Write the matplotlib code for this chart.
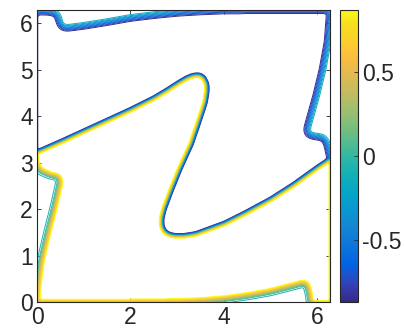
import numpy as np
import matplotlib
matplotlib.use('Agg')
import matplotlib.pyplot as plt
from matplotlib.path import Path
from matplotlib.colors import LinearSegmentedColormap, Normalize
from matplotlib.cm import ScalarMappable

plt.rcParams['font.family'] = ['Liberation Sans', 'DejaVu Sans']

# parula, every 4th entry of the 64-colour table
PARULA = [
    (0, (0.2081, 0.1663, 0.5292)), (4, (0.1959, 0.2645, 0.7279)),
    (8, (0.0117, 0.3875, 0.8820)), (12, (0.0498, 0.4586, 0.8641)),
    (16, (0.0793, 0.5200, 0.8312)), (20, (0.0343, 0.5966, 0.8199)),
    (24, (0.0228, 0.6535, 0.7768)), (28, (0.0843, 0.6928, 0.7062)),
    (32, (0.2178, 0.7250, 0.6193)), (36, (0.3953, 0.7459, 0.5244)),
    (40, (0.5709, 0.7485, 0.4494)), (44, (0.7184, 0.7411, 0.3905)),
    (48, (0.8507, 0.7299, 0.3360)), (52, (0.9739, 0.7314, 0.2666)),
    (56, (0.9880, 0.8066, 0.1794)), (60, (0.9626, 0.8705, 0.1309)),
    (63, (0.9763, 0.9831, 0.0538)),
]
parula = LinearSegmentedColormap.from_list('parula', [(i / 63, c) for i, c in PARULA])

# fronts
# S-shaped front, left to right (low side above, high side below)
s_x = [0.0, 0.5, 1.0, 1.5, 2.0, 2.5, 2.8, 3.0, 3.2, 3.35, 3.48, 3.57, 3.63, 3.64,
       3.6, 3.52, 3.3, 3.05, 2.85, 2.72, 2.67, 2.67, 2.72, 2.82, 2.95, 3.15, 3.4,
       4.0, 4.5, 5.0, 5.5, 6.0, 6.28]
s_y = [3.22, 3.44, 3.67, 3.9, 4.13, 4.38, 4.56, 4.69, 4.81, 4.87, 4.88, 4.82, 4.7, 4.55,
       4.3, 4.05, 3.4, 2.85, 2.35, 2.0, 1.8, 1.64, 1.52, 1.45, 1.42, 1.42, 1.46,
       1.68, 1.93, 2.2, 2.52, 2.88, 3.07]
# top front, left to right
t_x = [0.0, 0.3, 0.42, 0.46, 0.5, 0.6, 1.0, 1.5, 2.0, 2.5, 3.0, 3.5, 4.0, 5.0, 6.28]
t_y = [6.24, 6.23, 6.18, 6.05, 5.93, 5.88, 5.93, 6.01, 6.1, 6.16, 6.21, 6.24, 6.26, 6.27, 6.27]
# right front, top to bottom
r_x = [6.27, 6.22, 6.11, 5.97, 5.83, 5.77, 5.8, 5.9, 6.12, 6.2, 6.24, 6.27]
r_y = [6.26, 5.6, 5.0, 4.42, 3.92, 3.7, 3.6, 3.56, 3.53, 3.42, 3.25, 3.1]
# bottom-left front, top to bottom
bl_x = [0.0, 0.06, 0.28, 0.46, 0.5, 0.47, 0.38, 0.24, 0.1, 0.03, 0.0]
bl_y = [2.98, 2.84, 2.74, 2.70, 2.6, 2.45, 2.05, 1.5, 0.9, 0.4, 0.0]
# bottom front, left to right
b_x = [0.0, 1.0, 2.0, 3.0, 3.5, 4.0, 4.5, 5.0, 5.5, 5.72, 5.8, 5.84, 5.87]
b_y = [0.0, 0.0, 0.0, 0.01, 0.03, 0.07, 0.14, 0.23, 0.36, 0.42, 0.36, 0.2, 0.0]

val_low, val_high, val_mid = -1.0, 1.0, -0.1
levels = np.linspace(-0.866, 0.866, 21)
cbar_ticks = [-0.5, 0, 0.5]
cbar_labels = ['-0.5', '0', '0.5']

L = 2 * np.pi
h = 0.008
g = np.arange(-0.4, L + 0.4, h)
X, Y = np.meshgrid(g, g)
pts = np.column_stack([X.ravel(), Y.ravel()])


def region(xs, ys):
    p = Path(np.column_stack([xs, ys]))
    return p.contains_points(pts).reshape(X.shape).astype(float)


def smooth(a, width):
    # box ramp of the given width, rounded off with a small gaussian
    n = max(int(round(width / h)), 1)
    box = np.ones(n) / n
    gk = np.exp(-0.5 * (np.arange(-9, 10) / 3.0) ** 2)
    k = np.convolve(box, gk / gk.sum())
    for axis in (0, 1):
        a = np.apply_along_axis(lambda v: np.convolve(v, k, mode='same'), axis, a)
    return a


# low region: above/right of the S, inside the top and right fronts
eA = 0.05
a_x = s_x + r_x[::-1] + t_x[::-1] + [-eA, -eA]
a_y = s_y + r_y[::-1] + t_y[::-1] + [t_y[0], s_y[0]]
# high region: below/left of the S, inside the bottom fronts
eB = 0.03
b_poly_x = s_x + [L + eB, L + eB, b_x[-1]] + b_x[::-1] + bl_x[::-1] + [-eB, -eB]
b_poly_y = s_y + [s_y[-1], -eB, -eB] + b_y[::-1] + bl_y[::-1] + [bl_y[0], s_y[0]]
# everything on the high side of the S
v_x = s_x + [L + 0.4, L + 0.4, -0.4, -0.4]
v_y = s_y + [s_y[-1], -0.4, -0.4, s_y[0]]

inside = np.maximum(region(a_x, a_y), region(b_poly_x, b_poly_y))
UA = smooth(inside, 0.18)     # low/mid fronts
UB = smooth(inside, 0.14)     # high/mid fronts
V = smooth(region(v_x, v_y), 0.08)  # the S front
F = val_mid + (1 - V) * (val_low - val_mid) * UA + V * (val_high - val_mid) * UB

norm = Normalize(vmin=levels[0], vmax=levels[-1])
dark = (0.15, 0.15, 0.15)

fig = plt.figure(figsize=(4.05, 3.33), dpi=100)
ax = fig.add_axes([0.0914, 0.093, 0.7235, 0.877])
ax.contour(X, Y, F, levels=levels, cmap=parula, norm=norm, linewidths=0.7)
ax.set_xlim(0, L)
ax.set_ylim(0, L)
ax.set_xticks([0, 2, 4, 6])
ax.set_yticks([0, 1, 2, 3, 4, 5, 6])
ax.tick_params(direction='in', top=True, right=True, length=3, width=0.6,
               color=dark, labelcolor=dark, labelsize=16.5, pad=3)
for sp in ax.spines.values():
    sp.set_color(dark)
    sp.set_linewidth(0.8)

cax = fig.add_axes([0.8395, 0.093, 0.0444, 0.877])
cb = fig.colorbar(ScalarMappable(norm=norm, cmap=parula), cax=cax)
cb.set_ticks(cbar_ticks)
cb.set_ticklabels(cbar_labels)
cax.tick_params(direction='in', length=3, width=0.6, color=dark,
                labelcolor=dark, labelsize=16.5, pad=3)
cb.outline.set_edgecolor(dark)
cb.outline.set_linewidth(0.8)

fig.savefig('out.png', dpi=100)
